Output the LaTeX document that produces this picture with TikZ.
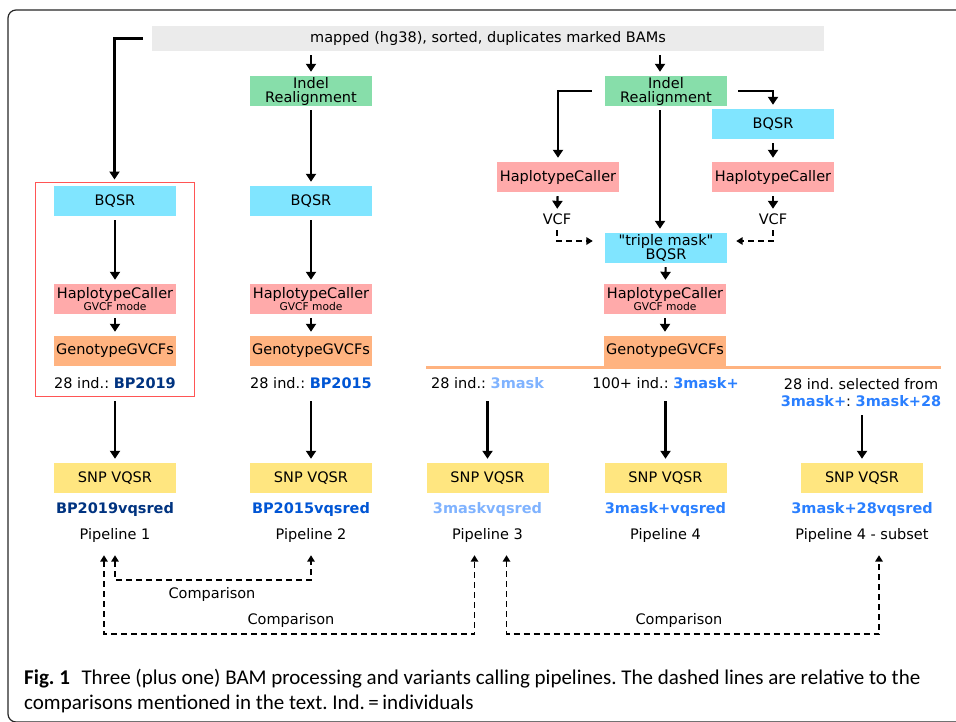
\documentclass[tikz,border=0pt]{standalone}
\usepackage{fontspec}
\setmainfont{DejaVu Sans}
\newfontfamily\rawfont{DejaVu Sans}
\newfontfamily\capfont{Carlito}
\usetikzlibrary{arrows.meta,calc}
\frenchspacing

\definecolor{bamgray}{HTML}{EBEBEB}
\definecolor{indelgreen}{HTML}{87DEAA}
\definecolor{bqsrcyan}{HTML}{80E5FF}
\definecolor{hcpink}{HTML}{FFAAAA}
\definecolor{gtorange}{HTML}{FFB380}
\definecolor{vqyellow}{HTML}{FFE680}
\definecolor{bpdark}{HTML}{003380}
\definecolor{bpblue}{HTML}{0055D4}
\definecolor{maskpale}{HTML}{80B3FF}
\definecolor{maskblue}{HTML}{2A7FFF}
\definecolor{framered}{HTML}{FF5555}

\newcommand{\gvcfmode}{{\fontsize{10.7}{11}\selectfont GVCF mode}}

\tikzset{
  stage/.style={minimum width=122, minimum height=30, inner sep=0, align=center},
  lbl/.style={inner sep=0, text height=11, text depth=3},
  flow/.style={line width=2.1pt, -{Triangle[length=8pt,width=10pt]},
    shorten <=4pt, shorten >=4pt},
  cmp/.style={line width=1.7pt, dash pattern=on 6pt off 4pt,
    {Triangle[length=6.5pt,width=7.5pt]}-{Triangle[length=6.5pt,width=7.5pt]},
    shorten <=13pt, shorten >=13pt},
}

\begin{document}
\begin{tikzpicture}[x=1pt,y=-1pt]
\fontsize{14.5}{14}\selectfont
\useasboundingbox (0,0) rectangle (956,721);
\draw[black!85, line width=1.2pt, rounded corners=8] (8,10) rectangle (990,722);

\node[fill=bamgray, minimum width=672, minimum height=25, inner sep=0] (bam) at (488,38.5)
  {mapped (hg38), sorted, duplicates marked BAMs};

% pipelines 1 and 2
\node[draw=framered, line width=1pt, minimum width=159, minimum height=214, inner sep=0]
  (frame1) at (114.5,289) {};
\node[stage, fill=indelgreen] (indel2) at (311,91) {Indel\\Realignment};
\foreach \x/\n in {115/1, 311/2}
  \node[stage, fill=bqsrcyan] (bqsr\n) at (\x,201) {BQSR};

% pipelines 3 and 4
\node[stage, fill=indelgreen] (indel3) at (666,91) {Indel\\Realignment};
\node[stage, fill=hcpink] (hcL) at (558,177) {HaplotypeCaller};
\node[stage, fill=bqsrcyan] (bqsrR) at (773,124) {BQSR};
\node[stage, fill=hcpink] (hcR) at (773,177) {HaplotypeCaller};
\node[lbl] (vcfL) at (557,220) {VCF};
\node[lbl] (vcfR) at (773,220) {VCF};
\node[stage, fill=bqsrcyan] (tm) at (666,248) {{\rawfont"triple mask"}\\BQSR};

\foreach \x/\n in {115/1, 311/2, 665/3} {
  \node[stage, fill=hcpink] (hc\n) at (\x,299) {HaplotypeCaller\\[-2pt]\gvcfmode};
  \node[stage, fill=gtorange] (gt\n) at (\x,351) {GenotypeGVCFs};
}
\draw[gtorange, line width=3pt] (426,367.5) -- (941,367.5);

\node[lbl] (ind1) at (115,384) {28 ind.: \textbf{\color{bpdark}BP2019}};
\node[lbl] (ind2) at (311,384) {28 ind.: \textbf{\color{bpblue}BP2015}};
\node[lbl] (ind3) at (487.5,384) {28 ind.: \textbf{\color{maskpale}3mask}};
\node[lbl] (ind4) at (665.5,384) {100+ ind.: \textbf{\color{maskblue}3mask+}};
\node[inner sep=0, align=center] (ind5) at (861,393)
  {28 ind. selected from\\[3pt]\textbf{\color{maskblue}3mask+}: \textbf{\color{maskblue}3mask+28}};

\foreach \x/\n/\c/\t/\p in {115/1/bpdark/BP2019vqsred/Pipeline 1,
    311/2/bpblue/BP2015vqsred/Pipeline 2, 487.5/3/maskpale/3maskvqsred/Pipeline 3,
    665.5/4/maskblue/3mask+vqsred/Pipeline 4, 862/5/maskblue/3mask+28vqsred/Pipeline 4 - subset} {
  \node[stage, fill=vqyellow] (vq\n) at (\x,478) {SNP VQSR};
  \node[lbl, text=\c, font=\bfseries] (set\n) at (\x,509) {\t};
  \node[lbl] (pipe\n) at (\x,535) {\p};
}

% processing arrows
\draw[flow, shorten <=0pt, shorten >=2pt] ([xshift=-9pt]bam.west) -| (frame1.north);
\draw[flow] (bam.south -| indel2) -- (indel2);
\draw[flow] (indel2) -- (bqsr2);
\foreach \n in {1,2} {
  \draw[flow] (bqsr\n) -- (hc\n);
  \draw[flow] (hc\n) -- (gt\n);
}
\draw[flow] ($(bam.south -| indel3)+(-6,0)$) -- ($(indel3.north)+(-6,0)$);
\draw[flow, shorten <=0pt] ($(indel3.west)+(-13,0)$) -| (hcL);
\draw[flow, shorten <=0pt] ($(indel3.east)+(11,0)$) -| (bqsrR);
\draw[flow] (bqsrR) -- (hcR);
\draw[flow] (hcL) -- (vcfL);
\draw[flow] (hcR) -- (vcfR);
\draw[flow] ($(indel3.south)+(-6,0)$) -- ($(tm.north)+(-6,0)$);
\draw[cmp, shorten <=3pt, shorten >=0pt, -{Triangle[length=6.5pt,width=7.5pt]}]
  (vcfL.south) |- ($(tm.west)+(-12,-7)$);
\draw[cmp, shorten <=3pt, shorten >=0pt, -{Triangle[length=6.5pt,width=7.5pt]}]
  (vcfR.south) |- ($(tm.east)+(9,-7)$);
\draw[flow] (tm) -- (hc3);
\draw[flow] (hc3) -- (gt3);
\foreach \n in {1,...,4}
  \draw[flow, shorten <=10pt] (ind\n) -- (vq\n);
\draw[flow, shorten <=8pt] (vq5 |- ind5.south) -- (vq5);

% comparisons
\draw[cmp] (pipe1.south) -- ++(0,38) -| (pipe2.south);
\draw[cmp] ($(pipe1.south)+(-11,0)$) -- ++(0,92) -| ($(pipe3.south)+(-13,0)$);
\draw[cmp] ($(pipe3.south)+(19,0)$) -- ++(0,92) -| ($(pipe5.south)+(17,0)$);
\node[lbl] (cmpA) at (212,594) {Comparison};
\node[lbl] (cmpB) at (291,620) {Comparison};
\node[lbl] (cmpC) at (679,620) {Comparison};

% caption
\node[anchor=base west, inner sep=0, font=\capfont\fontsize{21}{21}\selectfont] (cap1) at (24,684)
  {\textbf{Fig. 1}\hspace{0.55em}Three (plus one) BAM processing and variants calling pipelines. The dashed lines are relative to the};
\node[anchor=base west, inner sep=0, font=\capfont\fontsize{21}{21}\selectfont] (cap2) at (24,709)
  {comparisons mentioned in the text. Ind.\,=\,individuals};
\end{tikzpicture}
\end{document}
